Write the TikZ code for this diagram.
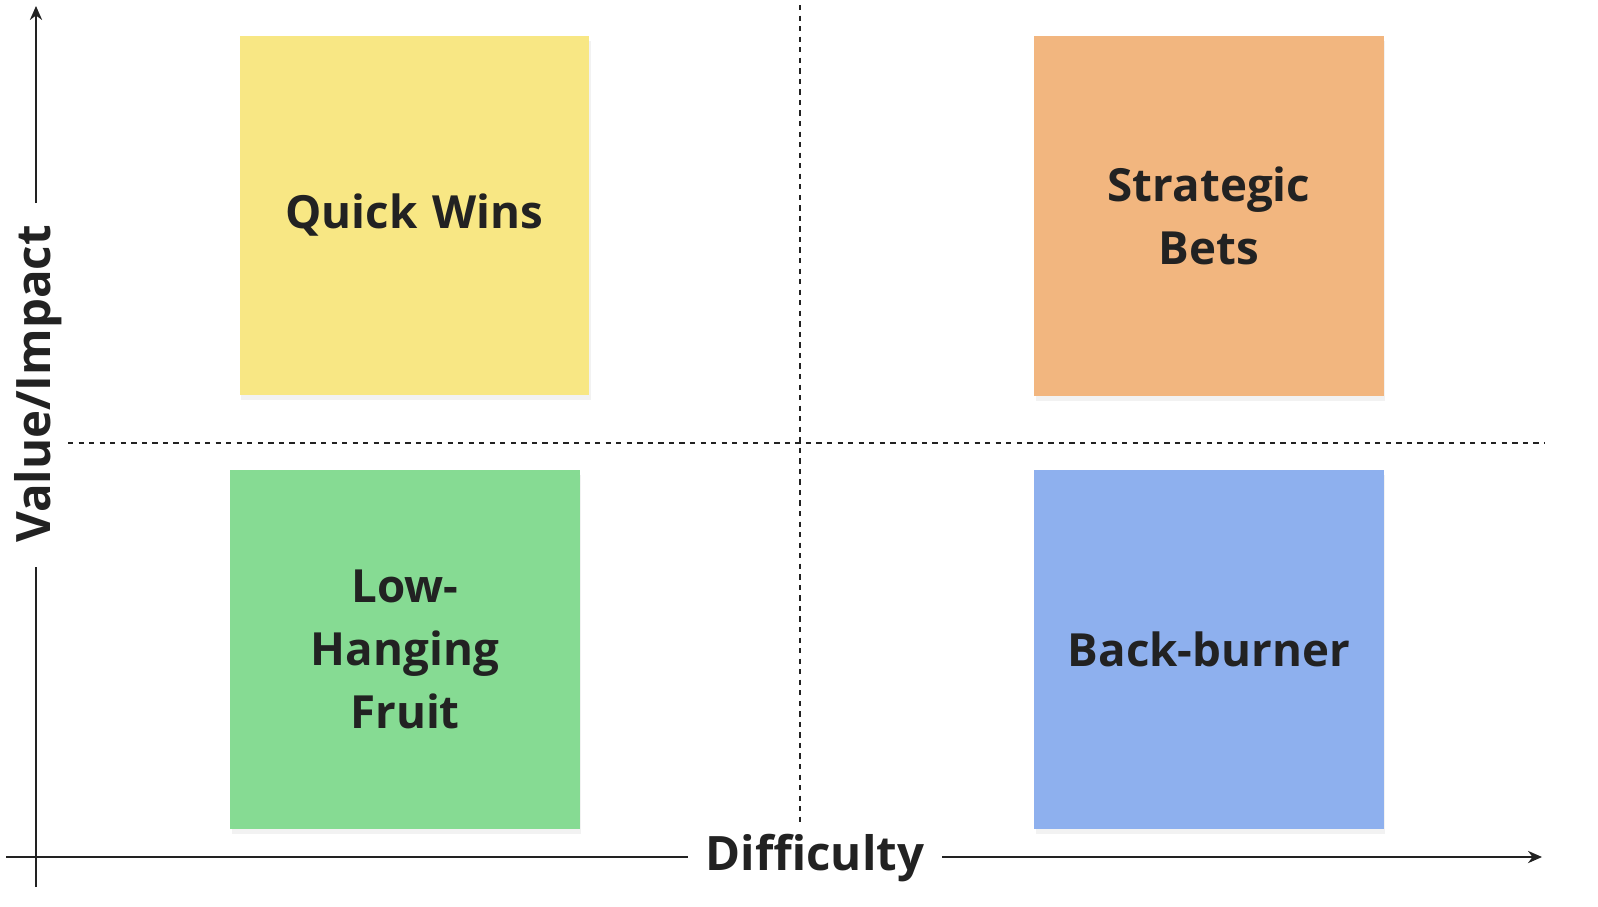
\documentclass[tikz,border=0pt]{standalone}
\usepackage{fontspec}
\setmainfont{Open Sans}
\usetikzlibrary{shadows,arrows.meta}
\definecolor{ny}{HTML}{F8E784}
\definecolor{no}{HTML}{F2B67F}
\definecolor{ng}{HTML}{86DB93}
\definecolor{nb}{HTML}{8EB0EE}
\definecolor{ink}{HTML}{222222}
\tikzset{
 note/.style={minimum width=7cm,minimum height=7.2cm,inner sep=0pt,align=center,text width=6.4cm,
   font=\fontsize{26}{36}\selectfont\bfseries,text=ink,
   drop shadow={shadow xshift=0.03cm,shadow yshift=-0.1cm,opacity=0.1}},
 axis/.style={draw=ink,line width=0.9pt,-{Stealth[length=8pt,width=7pt]}},
 grid/.style={draw=ink,dashed,line width=0.6pt},
 axlab/.style={font=\fontsize{27}{32}\selectfont\bfseries,text=ink,inner sep=0pt}
}
\begin{document}
\begin{tikzpicture}[x=0.02cm,y=-0.02cm]
\coordinate (vt) at (800,5); \coordinate (vb) at (800,822);
\coordinate (hl) at (68,443); \coordinate (hr) at (1545,443);
\draw[grid] (vt) -- (vb);
\draw[grid] (hl) -- (hr);
\node[note,fill=ny] (qw) at (414.5,215.5) {Quick Wins};
\node[note,fill=no] (sb) at (1209,216) {Strategic\\Bets};
\node[note,fill=ng] (lh) at (405,649.5) {Low-\\Hanging\\Fruit};
\node[note,fill=nb] (bb) at (1209,649.5) {Back-burner};
\node[axlab,rotate=90] (vl) at (38,384) {Value/Impact};
\node[axlab] (dl) at (815,858) {Difficulty};
\coordinate (o) at (36,887); \coordinate (yt) at (36,6);
\coordinate (xo) at (6,857); \coordinate (xt) at (1542,857);
\draw[draw=ink,line width=0.9pt] (o) -- (36,567);
\draw[axis] (36,203) -- (yt);
\draw[draw=ink,line width=0.9pt] (xo) -- (688,857);
\draw[axis] (942,857) -- (xt);
\pgfresetboundingbox
\useasboundingbox (0,0) rectangle (1598,906);
\end{tikzpicture}
\end{document}
